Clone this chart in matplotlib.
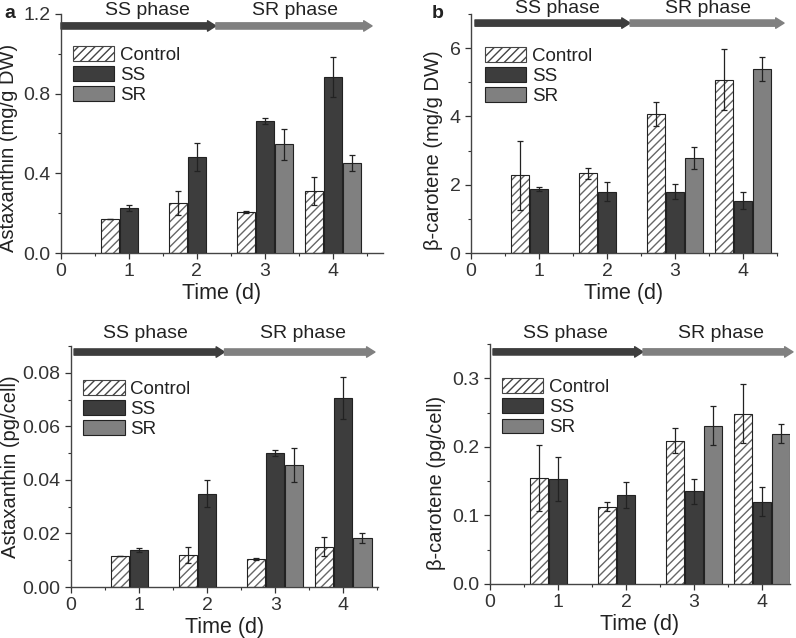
import numpy as np
import matplotlib
matplotlib.use('Agg')
import matplotlib.pyplot as plt
from matplotlib.patches import FancyArrowPatch, Patch
from matplotlib.ticker import MultipleLocator, FormatStrFormatter

plt.rcParams['font.family'] = ['Liberation Sans', 'DejaVu Sans']
plt.rcParams['text.color'] = '#222222'
plt.rcParams['axes.labelcolor'] = '#222222'
plt.rcParams['xtick.color'] = '#333333'
plt.rcParams['ytick.color'] = '#333333'

# data
days = np.array([1, 2, 3, 4])
sr_days = np.array([3, 4])

# a: astaxanthin (mg/g DW)
a_ctrl = [0.17, 0.25, 0.205, 0.31]
a_ctrl_err = [0.0, 0.06, 0.005, 0.07]
a_ss = [0.225, 0.48, 0.665, 0.885]
a_ss_err = [0.015, 0.07, 0.015, 0.10]
a_sr = [0.545, 0.45]
a_sr_err = [0.08, 0.04]

# b: beta-carotene (mg/g DW)
b_ctrl = [2.27, 2.33, 4.07, 5.08]
b_ctrl_err = [1.0, 0.15, 0.35, 0.9]
b_ss = [1.88, 1.80, 1.80, 1.53]
b_ss_err = [0.05, 0.27, 0.23, 0.25]
b_sr = [2.78, 5.40]
b_sr_err = [0.32, 0.35]

# c: astaxanthin (pg/cell)
c_ctrl = [0.0115, 0.012, 0.0103, 0.015]
c_ctrl_err = [0.0, 0.003, 0.0004, 0.0035]
c_ss = [0.0138, 0.0348, 0.050, 0.0705]
c_ss_err = [0.0008, 0.005, 0.001, 0.0078]
c_sr = [0.0455, 0.0182]
c_sr_err = [0.0063, 0.0018]

# d: beta-carotene (pg/cell)
d_ctrl = [0.155, 0.113, 0.209, 0.248]
d_ctrl_err = [0.048, 0.007, 0.018, 0.043]
d_ss = [0.153, 0.130, 0.135, 0.120]
d_ss_err = [0.032, 0.019, 0.018, 0.021]
d_sr = [0.231, 0.219]
d_sr_err = [0.028, 0.014]

W, H = 796, 638
fig = plt.figure(figsize=(W / 100, H / 100), dpi=100)


def px_axes(left, right, bottom, top):
    return fig.add_axes([left / W, 1 - bottom / H, (right - left) / W, (bottom - top) / H])


DARK = '#3d3d3d'
LIGHT = '#808080'
bw = 0.27
off = 0.28


def panel(ax, ctrl, ctrl_err, ss, ss_err, sr, sr_err, ylim, major, minor, fmt,
          xmax, ylabel, ylab_x, ylab_y, leg_xy, arrow_y, arrow_x, text_y, text_x,
          letter=None, letter_x=-0.13):
    ek = dict(ecolor='#222222', elinewidth=0.9, capsize=2.5, capthick=0.9)
    ax.bar(days - off, ctrl, bw, color='white', edgecolor='#666666', hatch='////',
           linewidth=0, zorder=2)
    ax.bar(days - off, ctrl, bw, fill=False, edgecolor='#222222', linewidth=0.8, zorder=3)
    ax.errorbar(days - off, ctrl, yerr=ctrl_err, fmt='none', zorder=4, **ek)
    ax.bar(days, ss, bw, color=DARK, edgecolor='#222222', linewidth=0.8, zorder=3)
    ax.errorbar(days, ss, yerr=ss_err, fmt='none', zorder=4, **ek)
    ax.bar(sr_days + off, sr, bw, color=LIGHT, edgecolor='#222222', linewidth=0.8, zorder=3)
    ax.errorbar(sr_days + off, sr, yerr=sr_err, fmt='none', zorder=4, **ek)

    ax.set_xlim(0, xmax)
    ax.set_ylim(*ylim)
    ax.xaxis.set_major_locator(MultipleLocator(1))
    ax.xaxis.set_minor_locator(MultipleLocator(0.5))
    ax.yaxis.set_major_locator(MultipleLocator(major))
    ax.yaxis.set_minor_locator(MultipleLocator(minor))
    ax.yaxis.set_major_formatter(FormatStrFormatter(fmt))
    for s in ['top', 'right']:
        ax.spines[s].set_visible(False)
    for s in ['left', 'bottom']:
        ax.spines[s].set_color('#444444')
        ax.spines[s].set_linewidth(1.0)
    ax.tick_params(which='major', direction='out', length=4, width=0.9, labelsize=14)
    ax.tick_params(which='minor', direction='out', length=2.5, width=0.8)
    ax.set_xlabel('Time (d)', fontsize=15.5, labelpad=2)
    ax.set_ylabel(ylabel, fontsize=14.5)
    ax.yaxis.set_label_coords(ylab_x, ylab_y)

    handles = [Patch(facecolor='white', edgecolor='#444444', hatch='////', linewidth=0.8),
               Patch(facecolor=DARK, edgecolor='#222222', linewidth=0.8),
               Patch(facecolor=LIGHT, edgecolor='#222222', linewidth=0.8)]
    ax.legend(handles, ['Control', 'SS', 'SR'], loc='upper left', bbox_to_anchor=leg_xy,
              frameon=False, fontsize=13.5, handlelength=2.2, handleheight=0.85,
              handletextpad=0.3, labelspacing=0.12, borderaxespad=0, borderpad=0)

    x0, xm, x1 = arrow_x
    for a, b, c in [(x0, xm, DARK), (xm, x1, LIGHT)]:
        arr = FancyArrowPatch((a, arrow_y), (b, arrow_y), transform=ax.transAxes,
                              arrowstyle='simple,tail_width=0.45,head_width=0.75,head_length=0.6',
                              mutation_scale=10, color=c, shrinkA=0, shrinkB=0, clip_on=False)
        ax.add_patch(arr)
    ax.text(text_x[0], text_y, 'SS phase', transform=ax.transAxes, ha='center', va='center',
            fontsize=14)
    ax.text(text_x[1], text_y, 'SR phase', transform=ax.transAxes, ha='center', va='center',
            fontsize=14)
    if letter:
        ax.text(letter_x, 1.0, letter, transform=ax.transAxes, ha='center', va='center',
                fontsize=14, fontweight='bold')


ax_a = px_axes(61, 383, 253, 14)
panel(ax_a, a_ctrl, a_ctrl_err, a_ss, a_ss_err, a_sr, a_sr_err, (0, 1.2), 0.4, 0.2, '%.1f',
      4.74, 'Astaxanthin (mg/g DW)', -0.135, 0.44, (0.037, 0.866), 0.95, (0.0, 0.481, 0.966),
      1.013, (0.267, 0.727), letter='a', letter_x=-0.158)

ax_b = px_axes(471, 777, 253, 14)
panel(ax_b, b_ctrl, b_ctrl_err, b_ss, b_ss_err, b_sr, b_sr_err, (0, 7), 2, 1, '%d',
      4.5, 'β-carotene (mg/g DW)', -0.09, 0.43, (0.046, 0.862), 0.962, (0.013, 0.52, 1.023),
      1.025, (0.284, 0.775), letter='b', letter_x=-0.11)

ax_c = px_axes(71, 378, 587, 346)
panel(ax_c, c_ctrl, c_ctrl_err, c_ss, c_ss_err, c_sr, c_sr_err, (0, 0.09), 0.02, 0.01, '%.2f',
      4.51, 'Astaxanthin (pg/cell)', -0.165, 0.50, (0.04, 0.859), 0.975, (0.01, 0.50, 0.99),
      1.05, (0.244, 0.756))

ax_d = px_axes(490, 790, 584, 344)
panel(ax_d, d_ctrl, d_ctrl_err, d_ss, d_ss_err, d_sr, d_sr_err, (0, 0.35), 0.1, 0.05, '%.1f',
      4.41, 'β-carotene (pg/cell)', -0.145, 0.42, (0.04, 0.858), 0.967, (0.01, 0.51, 1.01),
      1.042, (0.25, 0.77))

fig.savefig('out.png', dpi=100)
